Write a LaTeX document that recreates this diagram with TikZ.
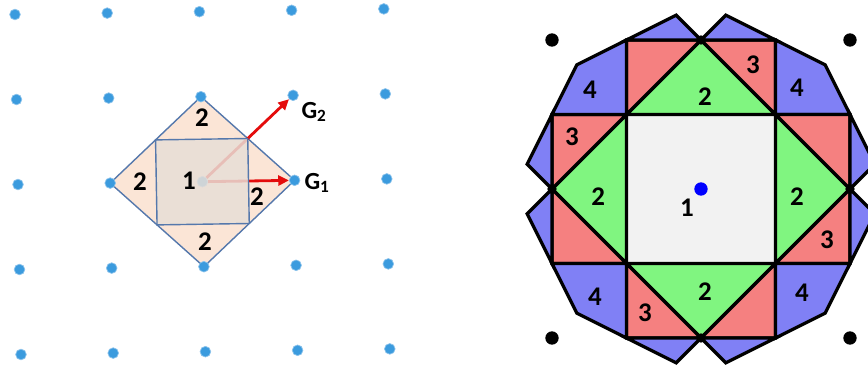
\documentclass[tikz,border=0pt]{standalone}
\usepackage{fontspec}
\setmainfont{Carlito}
\usepackage{tikz}
\usetikzlibrary{arrows.meta, calc}
\definecolor{latblue}{RGB}{59,155,222}
\definecolor{latrim}{RGB}{140,195,235}
\definecolor{cellline}{RGB}{85,120,172}
\definecolor{cellpeach}{RGB}{251,229,214}
\definecolor{cellgrey}{RGB}{232,222,214}
\definecolor{vecred}{RGB}{228,12,12}
\definecolor{bzgrey}{RGB}{242,242,242}
\definecolor{bzgreen}{RGB}{128,245,128}
\definecolor{bzred}{RGB}{245,128,128}
\definecolor{bzblue}{RGB}{128,128,245}
\tikzset{
  latdot/.style={circle, fill=latblue, draw=latrim, line width=0.6pt,
    inner sep=0pt, minimum size=3.2mm},
  wscell/.style={draw=cellline, fill=cellpeach, line width=1.2pt},
  bzcell/.style={draw=cellline, fill=cellgrey, fill opacity=0.85, line width=1.2pt},
  gvec/.style={-{Triangle[length=3.2mm, width=3mm]}, line width=2.4pt, color=vecred},
  lbl/.style={font=\fontsize{23}{23}\selectfont\bfseries, inner sep=0pt},
  glbl/.style={font=\fontsize{21}{21}\selectfont\bfseries, inner sep=0pt},
  zoneone/.style={draw=black, fill=bzgrey, line width=2.8pt},
  zonetwo/.style={draw=black, fill=bzgreen, line width=2.8pt},
  zonethree/.style={draw=black, fill=bzred, line width=2.8pt},
  zonefour/.style={draw=black, fill=bzblue, line width=2.8pt},
  rlat/.style={circle, fill=black, inner sep=0pt, minimum size=4mm},
  origdot/.style={circle, fill=blue, inner sep=0pt, minimum size=4mm}
}

\begin{document}
\begin{tikzpicture}[x=0.3mm, y=-0.3mm, line join=miter]
  \useasboundingbox (0,0) rectangle (868,367);

  % Lattice points (left)
  \foreach \i in {0,...,4}
    \foreach \j in {0,...,4}
      \coordinate (c\i\j) at ({15+92.2*\i+1.5*\j},{14.5-1.4*\i+85*\j});

  % Wigner-Seitz diamond
  \filldraw[wscell] (c21) -- (c32) -- (c23) -- (c12) -- cycle;

  \foreach \i in {0,...,4}
    \foreach \j in {0,...,4}
      \node[latdot] (g\i\j) at (c\i\j) {};

  % Basis vectors
  \draw[gvec] (g22) -- (g32);
  \draw[gvec] (g22) -- (g31);

  % First zone square
  \filldraw[bzcell] ($(c21)!.5!(c12)$) -- ($(c21)!.5!(c32)$)
    -- ($(c32)!.5!(c23)$) -- ($(c23)!.5!(c12)$) -- cycle;

  % Labels (left)
  \node[lbl] (l1) at (189,181) {1};
  \node[lbl] (l2t) at (202,118) {2};
  \node[lbl] (l2l) at (140,182) {2};
  \node[lbl] (l2r) at (257,197) {2};
  \node[lbl] (l2b) at (205,242) {2};
  \node[glbl] (lg1) at (317,183) {G\textsubscript{1}};
  \node[glbl] (lg2) at (314,112) {G\textsubscript{2}};

  % Brillouin zones (right)
  \begin{scope}[shift={(701,189)}, x=44.7mm, y=44.7mm]
    \filldraw[zoneone] (-.5,-.5) rectangle (.5,.5);
    \foreach \r in {0,90,180,270} {
      \begin{scope}[rotate=\r]
        % second zone
        \filldraw[zonetwo] (-.5,.5) -- (0,1) -- (.5,.5) -- cycle;
        % third zone
        \filldraw[zonethree] (-.5,.5) -- (-.5,1) -- (0,1) -- cycle;
        \filldraw[zonethree] (.5,.5) -- (.5,1) -- (0,1) -- cycle;
        % fourth zone
        \filldraw[zonefour] (.5,.5) -- (1,.5) -- (5/6,5/6) -- (.5,1) -- cycle;
        \filldraw[zonefour] (-.5,1) -- (-1/6,7/6) -- (0,1) -- cycle;
        \filldraw[zonefour] (.5,1) -- (1/6,7/6) -- (0,1) -- cycle;
      \end{scope}
    }

    % Lattice points (right)
    \node[origdot] (r0) at (0,0) {};
    \node[rlat] (rnw) at (-1,1) {};
    \node[rlat] (rne) at (1,1) {};
    \node[rlat] (rsw) at (-1,-1) {};
    \node[rlat] (rse) at (1,-1) {};
    \node[rlat, minimum size=2.8mm] (rn) at (0,1) {};
    \node[rlat, minimum size=2.8mm] (rs) at (0,-1) {};
    \node[rlat, minimum size=2.8mm] (rw) at (-1,0) {};
    \node[rlat, minimum size=2.8mm] (re) at (1,0) {};

    % Zone numbers
    \node[lbl] (z1) at (-.094,-.128) {1};
    \node[lbl] (z2t) at (.027,.617) {2};
    \node[lbl] (z2l) at (-.69,-.054) {2};
    \node[lbl] (z2r) at (.644,-.054) {2};
    \node[lbl] (z2b) at (.027,-.69) {2};
    \node[lbl] (z3a) at (.349,.832) {3};
    \node[lbl] (z3b) at (-.866,.349) {3};
    \node[lbl] (z3c) at (.846,-.342) {3};
    \node[lbl] (z3d) at (-.376,-.832) {3};
    \node[lbl] (z4a) at (-.745,.664) {4};
    \node[lbl] (z4b) at (.644,.678) {4};
    \node[lbl] (z4c) at (-.711,-.725) {4};
    \node[lbl] (z4d) at (.678,-.698) {4};
  \end{scope}
\end{tikzpicture}
\end{document}
